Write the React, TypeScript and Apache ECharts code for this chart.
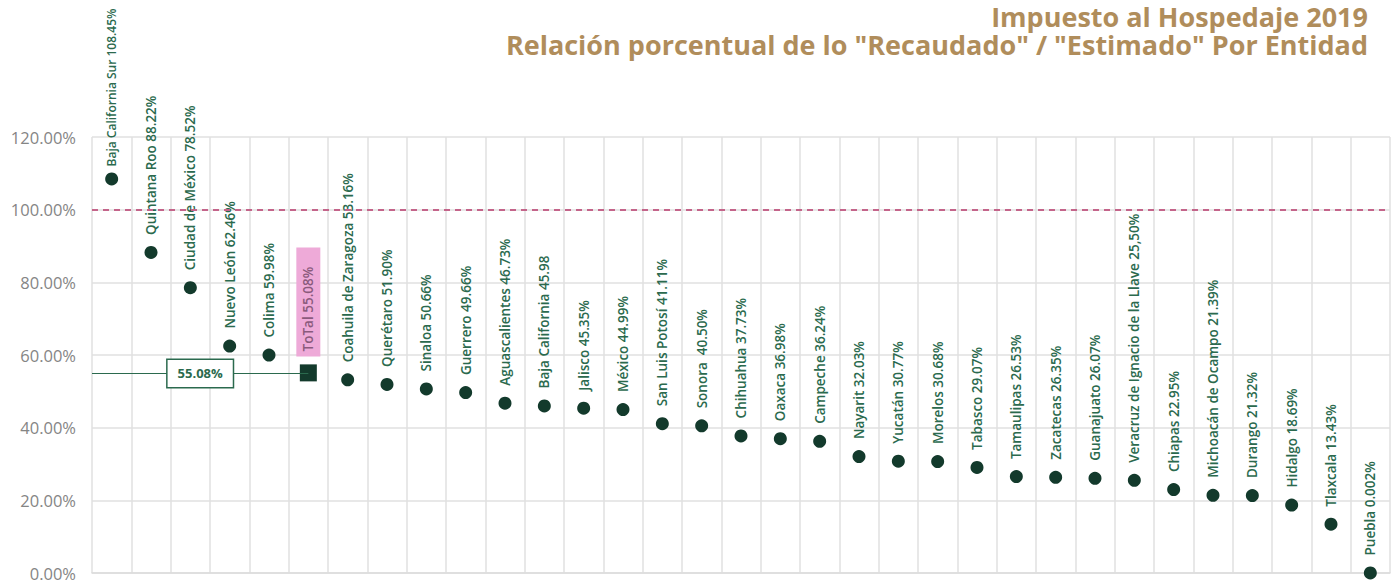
import React, { useEffect, useRef } from "react";
import * as echarts from "echarts";

const categories = [
  "Baja California Sur", "Quintana Roo", "Ciudad de México", "Nuevo León", "Colima", "ToTal",
  "Coahuila de Zaragoza", "Querétaro", "Sinaloa", "Guerrero", "Aguascalientes", "Baja California",
  "Jalisco", "México", "San Luis Potosí", "Sonora", "Chihuahua", "Oaxaca", "Campeche", "Nayarit",
  "Yucatán", "Morelos", "Tabasco", "Tamaulipas", "Zacatecas", "Guanajuato",
  "Veracruz de Ignacio de la Llave", "Chiapas", "Michoacán de Ocampo", "Durango", "Hidalgo",
  "Tlaxcala", "Puebla",
];

const values = [
  108.45, 88.22, 78.52, 62.46, 59.98, 55.08, 53.16, 51.9, 50.66, 49.66, 46.73, 45.98, 45.35, 44.99,
  41.11, 40.5, 37.73, 36.98, 36.24, 32.03, 30.77, 30.68, 29.07, 26.53, 26.35, 26.07, 25.5, 22.95,
  21.39, 21.32, 18.69, 13.43, 0.002,
];

const pointLabels = [
  "Baja California Sur 108.45%", "Quintana Roo 88.22%", "Ciudad de México 78.52%", "Nuevo León 62.46%",
  "Colima 59.98%", "ToTal 55.08%", "Coahuila de Zaragoza 53.16%", "Querétaro 51.90%", "Sinaloa 50.66%",
  "Guerrero 49.66%", "Aguascalientes 46.73%", "Baja California 45.98", "Jalisco 45.35%", "México 44.99%",
  "San Luis Potosí 41.11%", "Sonora  40.50%", "Chihuahua 37.73%", "Oaxaca 36.98%", "Campeche 36.24%",
  "Nayarit 32.03%", "Yucatán 30.77%", "Morelos 30.68%", "Tabasco 29.07%", "Tamaulipas 26.53%",
  "Zacatecas 26.35%", "Guanajuato 26.07%", "Veracruz de Ignacio de la Llave 25,50%", "Chiapas 22.95%",
  "Michoacán de Ocampo 21.39%", "Durango 21.32%", "Hidalgo 18.69%", "Tlaxcala 13.43%", "Puebla 0.002%",
];

const titleLines = [
  "Impuesto al Hospedaje 2019",
  "Relación porcentual de lo \"Recaudado\" / \"Estimado\" Por Entidad",
];

const totalName = "ToTal";
const totalValue = 55.08;
const targetValue = 100;
const yTicks = { min: 0, max: 120, interval: 20 };

const FONT = "'Open Sans', sans-serif";
const GRID_LEFT = 92;

export default function App() {
  const ref = useRef<HTMLDivElement>(null);

  useEffect(() => {
    if (!ref.current) return;
    const chart = echarts.init(ref.current, undefined, { renderer: "svg" });
    const maxValue = Math.max(...values);

    const data = values.map((v, i) => {
      if (categories[i] === totalName) {
        return {
          value: v,
          symbol: "rect",
          symbolSize: 17,
          label: {
            color: "#8a5a7c",
            fontWeight: 600,
            backgroundColor: "#eeaad8",
            padding: [5, 19, 5, 5],
            distance: 8,
          },
        };
      }
      if (v === maxValue) {
        return { value: v, label: { fontSize: 12, distance: 6 } };
      }
      return { value: v };
    });

    const titleStyle = {
      fontFamily: FONT,
      fontWeight: 700,
      fontSize: 27,
      lineHeight: 28,
      color: "#b08d5b",
    };

    chart.setOption({
      animation: false,
      title: [
        { text: titleLines[0], right: 28, top: 2, padding: 0, textStyle: titleStyle },
        { text: titleLines[1], right: 28, top: 30, padding: 0, textStyle: titleStyle },
      ],
      grid: { left: GRID_LEFT, right: 6, top: 137, bottom: 9, containLabel: false },
      xAxis: {
        type: "category",
        data: categories,
        boundaryGap: true,
        axisLine: { show: true, lineStyle: { color: "#dcdcdc", width: 1.5 } },
        axisTick: { show: false },
        axisLabel: { show: false },
        splitLine: { show: true, interval: 0, lineStyle: { color: "#e0e0e0", width: 1.5 } },
      },
      yAxis: {
        type: "value",
        min: yTicks.min,
        max: yTicks.max,
        interval: yTicks.interval,
        axisLine: { show: false },
        axisTick: { show: false },
        axisLabel: {
          formatter: (v: number) => v.toFixed(2) + "%",
          fontFamily: FONT,
          fontSize: 16.5,
          color: "#858585",
          margin: 16,
        },
        splitLine: { show: true, lineStyle: { color: "#e0e0e0", width: 1.5 } },
      },
      series: [
        {
          type: "scatter",
          data,
          symbol: "circle",
          symbolSize: 13,
          itemStyle: { color: "#133a2c", opacity: 1 },
          label: {
            show: true,
            position: "top",
            distance: 11,
            rotate: 90,
            align: "left",
            verticalAlign: "middle",
            fontFamily: FONT,
            fontSize: 13.5,
            fontWeight: 600,
            color: "#2b6a4e",
            formatter: (p: any) => pointLabels[p.dataIndex],
          },
          markLine: {
            silent: true,
            symbol: ["none", "none"],
            data: [
              {
                yAxis: targetValue,
                label: { show: false },
                lineStyle: { color: "#c4648a", type: [6, 5], width: 1.8 },
              },
              [
                {
                  x: GRID_LEFT,
                  coord: [0, totalValue],
                  label: {
                    show: true,
                    position: "middle",
                    formatter: totalValue.toFixed(2) + "%",
                    color: "#2b6a4e",
                    fontFamily: FONT,
                    fontWeight: 700,
                    fontSize: 13,
                    backgroundColor: "#ffffff",
                    borderColor: "#2b6a4e",
                    borderWidth: 1.5,
                    padding: [7, 10, 7, 10],
                    distance: [0, -14],
                  },
                  lineStyle: { color: "#2b6a4e", type: "solid", width: 1.2 },
                },
                { coord: [totalName, totalValue] },
              ],
            ],
          },
          z: 3,
        },
      ],
    });

    return () => chart.dispose();
  }, []);

  return (
    <div
      ref={ref}
      style={{ position: "absolute", left: 0, top: 0, width: 1396, height: 582 }}
    />
  );
}
